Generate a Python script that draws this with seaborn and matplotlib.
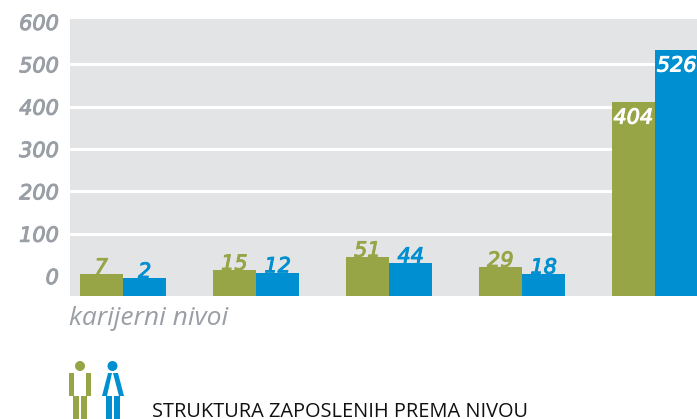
import matplotlib
matplotlib.use("Agg")
import matplotlib.pyplot as plt
import matplotlib.patheffects as pe
from matplotlib.patches import Circle, Polygon, Rectangle
import pandas as pd
import seaborn as sns

LEVELS = ["1", "2", "3", "4", "5"]
MEN = [7, 15, 51, 29, 404]
WOMEN = [2, 12, 44, 18, 526]
# heights as drawn on the axis, they do not follow the printed numbers exactly
MEN_DRAWN = [5, 14, 45, 21, 411]
WOMEN_DRAWN = [-5, 8, 31, 5, 534]
YTICKS = [0, 100, 200, 300, 400, 500, 600]

GREEN = "#97a546"
BLUE = "#008fd0"
GREY = "#e3e4e6"
TEXT = "#9a9fa5"

W, H = 697, 419
BAR_FLOOR = -47
NUM = dict(family="DejaVu Sans", style="italic", fontsize=15)


def thicken(txt, color):
    # no semi-bold wide italic installed, fatten the regular one a bit
    txt.set_path_effects([pe.withStroke(linewidth=0.7, foreground=color)])


sns.set_theme(style="white")
plt.rcParams["font.family"] = ["Open Sans", "DejaVu Sans"]

df = pd.DataFrame({
    "nivo": LEVELS * 2,
    "pol": ["m"] * 5 + ["z"] * 5,
    "vrednost": MEN_DRAWN + WOMEN_DRAWN,
})

fig = plt.figure(figsize=(W / 100, H / 100), dpi=100)
ax = fig.add_axes([70 / W, 1 - 296 / H, (W - 70) / W, 277 / H])

ax.axhspan(-9.5, 620, color=GREY, lw=0, zorder=0)
for t in YTICKS[1:-1]:
    ax.axhline(t, color="white", lw=2.2, zorder=1)

# labels sit under the bars, the bar edge cuts into them
for i in range(4):
    t1 = ax.text(i - 0.163, MEN_DRAWN[i] + 1, str(MEN[i]), color=GREEN, ha="center", va="baseline",
                 zorder=2, **NUM)
    t2 = ax.text(i + 0.163, WOMEN_DRAWN[i] + 1, str(WOMEN[i]), color=BLUE, ha="center", va="baseline",
                 zorder=2, **NUM)
    thicken(t1, GREEN)
    thicken(t2, BLUE)

sns.barplot(data=df, x="nivo", y="vrednost", hue="pol", order=LEVELS, hue_order=["m", "z"],
            palette=[GREEN, BLUE], width=0.652, gap=0, saturation=1, legend=False,
            ax=ax, zorder=3)
for p in ax.patches:
    top = p.get_y() + p.get_height()
    p.set_y(BAR_FLOOR)
    p.set_height(top - BAR_FLOOR)
    p.set_linewidth(0)

t1 = ax.text(4 - 0.163, MEN_DRAWN[4] - 51, str(MEN[4]), color="white", ha="center", va="baseline",
             zorder=4, **NUM)
t2 = ax.text(4 + 0.163, WOMEN_DRAWN[4] - 51, str(WOMEN[4]), color="white", ha="center", va="baseline",
             zorder=4, **NUM)
thicken(t1, "white")
thicken(t2, "white")

ax.set_ylim(BAR_FLOOR, 607)
ax.set_xlim(-0.3985, 4.3157)
ax.set_xticks([])
ax.set_yticks(YTICKS)
ax.set_yticklabels([str(t) for t in YTICKS], color=TEXT, **NUM)
for lab in ax.get_yticklabels():
    thicken(lab, TEXT)
ax.tick_params(axis="y", length=0, pad=8)
ax.set_xlabel("")
ax.set_ylabel("")
sns.despine(ax=ax, left=True, bottom=True, top=True, right=True)

fig.text(69 / W, 1 - 318 / H, "karijerni nivoi", color=TEXT, fontsize=19, style="italic",
         va="center", ha="left")
fig.text(152 / W, 1 - 417 / H, "STRUKTURA ZAPOSLENIH PREMA NIVOU", color="#111111", fontsize=14.45,
         va="baseline", ha="left")

# pictograms, in pixels of the whole figure
icons = fig.add_axes([0, 0, 1, 1], facecolor="none")
icons.set_xlim(0, W)
icons.set_ylim(H, 0)
icons.axis("off")
icons.add_patch(Circle((80, 366), 5, color=GREEN, lw=0))
for x, w, y, h in [(69, 5, 373, 23), (86, 5, 373, 23), (73, 6, 396, 23), (81, 6, 396, 23)]:
    icons.add_patch(Rectangle((x, y), w, h, color=GREEN, lw=0))
icons.add_patch(Circle((112.5, 366), 5, color=BLUE, lw=0))
icons.add_patch(Polygon([(108, 373), (112, 373), (107, 396), (102, 396)], color=BLUE, lw=0))
icons.add_patch(Polygon([(113, 373), (118, 373), (124, 396), (119, 396)], color=BLUE, lw=0))
for x, w in [(106, 6), (114, 6)]:
    icons.add_patch(Rectangle((x, 396), w, 23, color=BLUE, lw=0))

fig.savefig("out.png", dpi=100)
